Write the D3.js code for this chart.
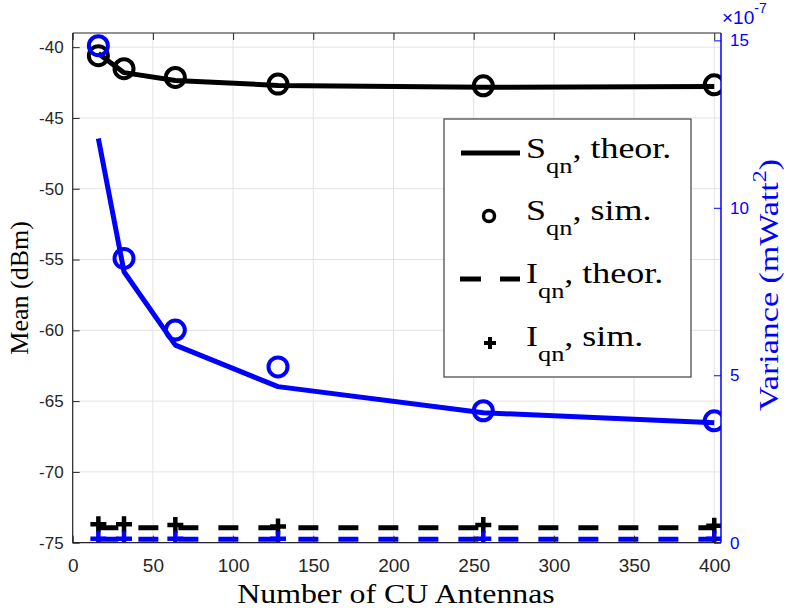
<!DOCTYPE html>
<html lang="en">
<head>
<meta charset="UTF-8">
<title>Mean and variance vs number of CU antennas</title>
<script src="https://d3js.org/d3.v7.min.js"></script>
<style>
  body { margin: 0; background: #ffffff; }
  svg { display: block; }
  .tick text { font-family: "Liberation Sans", Arial, sans-serif; }
  .serif { font-family: "Liberation Serif", "Times New Roman", serif; }
</style>
</head>
<body>
<svg id="chart" width="789" height="608"></svg>
<script>
// data
const antennas = [16, 32, 64, 128, 256, 400];
const sTheorMean = [-40.45, -41.8, -42.35, -42.7, -42.83, -42.78];
const sSimMean = [-40.6, -41.52, -42.14, -42.61, -42.73, -42.66];
const iTheorMean = [-73.95, -73.95, -73.95, -73.95, -73.95, -73.95];
const iSimMean = [-73.7, -73.7, -73.75, -73.85, -73.75, -73.8];
const sTheorVar = [12.07, 8.09, 5.9, 4.66, 3.88, 3.58];   // x 1e-7
const sSimVar = [14.84, 8.49, 6.35, 5.25, 3.94, 3.64];
const iTheorVar = [0.1, 0.1, 0.1, 0.1, 0.1, 0.1];
const iSimVar = [0.12, 0.12, 0.12, 0.12, 0.12, 0.12];

const xTicks = [0, 50, 100, 150, 200, 250, 300, 350, 400];
const meanTicks = [-75, -70, -65, -60, -55, -50, -45, -40];
const varTicks = [0, 5, 10, 15];
const legendNames = ["S", "S", "I", "I"];
const legendTails = [", theor.", ", sim.", ", theor.", ", sim."];

const svg = d3.select("#chart");
const box = { left: 72.7, top: 33, right: 721, bottom: 542.7 };
const axisGray = "#262626";
const blue = "#0000ff";
const plain = d => String(d);

const x = d3.scaleLinear().domain([0, 404.2]).range([box.left, box.right]);
const yL = d3.scaleLinear().domain([-75, -39]).range([box.bottom, box.top]);
const yR = d3.scaleLinear().domain([0, 15.22]).range([box.bottom, box.top]);

// grid
const grid = svg.append("g").attr("stroke", "#e3e3e3").attr("stroke-width", 1);
grid.selectAll(".gx").data(xTicks).enter().append("line")
    .attr("x1", d => x(d)).attr("x2", d => x(d))
    .attr("y1", box.top).attr("y2", box.bottom);
grid.selectAll(".gy").data(meanTicks).enter().append("line")
    .attr("x1", box.left).attr("x2", box.right)
    .attr("y1", d => yL(d)).attr("y2", d => yL(d));

// clip for the data
svg.append("clipPath").attr("id", "plotclip").append("rect")
    .attr("x", box.left).attr("y", box.top)
    .attr("width", box.right - box.left).attr("height", box.bottom - box.top);
const plot = svg.append("g").attr("clip-path", "url(#plotclip)");

const pts = (xs, ys) => xs.map((d, i) => [d, ys[i]]);
const lineL = d3.line().x(d => x(d[0])).y(d => yL(d[1]));
const lineR = d3.line().x(d => x(d[0])).y(d => yR(d[1]));
const plusPath = s => `M${-s},0H${s}M0,${-s}V${s}`;

function drawSeries(ys, lineFn, yScale, color, simYs, simType, dashed) {
    plot.append("path").datum(pts(antennas, ys))
        .attr("d", lineFn).attr("fill", "none").attr("stroke", color)
        .attr("stroke-width", 5)
        .attr("stroke-dasharray", dashed ? "20,20" : null)
        .attr("stroke-linejoin", "round");
    const sim = plot.selectAll(null).data(pts(antennas, simYs)).enter();
    if (simType === "circle") {
        sim.append("circle")
            .attr("cx", d => x(d[0])).attr("cy", d => yScale(d[1]))
            .attr("r", 9.5).attr("fill", "none").attr("stroke", color).attr("stroke-width", 4);
    } else {
        sim.append("path")
            .attr("transform", d => `translate(${x(d[0])},${yScale(d[1])})`)
            .attr("d", plusPath(8)).attr("stroke", color).attr("stroke-width", 4.5);
    }
}

// left (black) then right (blue)
drawSeries(sTheorMean, lineL, yL, "#000", sSimMean, "circle", false);
drawSeries(iTheorMean, lineL, yL, "#000", iSimMean, "plus", true);
drawSeries(sTheorVar, lineR, yR, blue, sSimVar, "circle", false);
drawSeries(iTheorVar, lineR, yR, blue, iSimVar, "plus", true);

// axes
const bottomAxis = svg.append("g").attr("transform", `translate(0,${box.bottom})`)
    .call(d3.axisBottom(x).tickValues(xTicks).tickFormat(plain)
        .tickSizeInner(-7).tickSizeOuter(0).tickPadding(16));
bottomAxis.selectAll("text").attr("font-size", 19).attr("fill", axisGray);

const topAxis = svg.append("g").attr("transform", `translate(0,${box.top})`)
    .call(d3.axisTop(x).tickValues(xTicks).tickSizeInner(-7).tickSizeOuter(0).tickFormat(""));

const leftAxis = svg.append("g").attr("transform", `translate(${box.left},0)`)
    .call(d3.axisLeft(yL).tickValues(meanTicks).tickFormat(plain)
        .tickSizeInner(-7).tickSizeOuter(0).tickPadding(9));
leftAxis.selectAll("text").attr("font-size", 17).attr("fill", axisGray);

const rightAxis = svg.append("g").attr("transform", `translate(${box.right},0)`)
    .call(d3.axisRight(yR).tickValues(varTicks).tickFormat(plain)
        .tickSizeInner(-7).tickSizeOuter(0).tickPadding(9));
rightAxis.selectAll("text").attr("font-size", 17).attr("fill", blue);
rightAxis.selectAll("line").attr("stroke", blue);

[bottomAxis, topAxis, leftAxis].forEach(g => {
    g.select(".domain").remove();
    g.selectAll("line").attr("stroke", axisGray);
});
rightAxis.select(".domain").remove();

// frame
svg.append("path")
    .attr("d", `M${box.left},${box.top}V${box.bottom}H${box.right}M${box.left},${box.top}H${box.right}`)
    .attr("fill", "none").attr("stroke", axisGray).attr("stroke-width", 1.2);
svg.append("line").attr("x1", box.right).attr("x2", box.right)
    .attr("y1", box.top).attr("y2", box.bottom).attr("stroke", blue).attr("stroke-width", 1.5);

// exponent label
const expo = svg.append("text").attr("x", 722).attr("y", 24)
    .attr("font-family", "Liberation Sans, Arial, sans-serif").attr("fill", blue).attr("font-size", 19);
expo.append("tspan").text("\u00d710");
expo.append("tspan").attr("dy", -11).attr("font-size", 14).text("-7");

// axis titles
svg.append("text").attr("class", "serif")
    .attr("transform", `translate(396,603) scale(1.18,1)`)
    .attr("text-anchor", "middle").attr("font-size", 27).attr("fill", "#000")
    .text("Number of CU Antennas");

svg.append("text").attr("class", "serif")
    .attr("transform", `translate(28,${(box.top + box.bottom) / 2}) rotate(-90)`)
    .attr("text-anchor", "middle").attr("font-size", 26).attr("fill", "#000")
    .text("Mean (dBm)");

const vLabel = svg.append("text").attr("class", "serif")
    .attr("transform", `translate(778,285) rotate(-90) scale(1.26,1)`)
    .attr("text-anchor", "middle").attr("font-size", 27).attr("fill", blue);
vLabel.append("tspan").text("Variance (mWatt");
vLabel.append("tspan").attr("dy", -12).attr("font-size", 19).text("2");
vLabel.append("tspan").attr("dy", 12).text(")");

// legend
const legend = svg.append("g");
legend.append("rect").attr("x", 444).attr("y", 119).attr("width", 247).attr("height", 258)
    .attr("fill", "#fff").attr("stroke", "#404040").attr("stroke-width", 1.2);

const rowBase = [158, 220, 283, 346];
legend.append("line").attr("x1", 461).attr("x2", 520).attr("y1", rowBase[0] - 5).attr("y2", rowBase[0] - 5)
    .attr("stroke", "#000").attr("stroke-width", 5);
legend.append("circle").attr("cx", 489).attr("cy", rowBase[1] - 4).attr("r", 5.5)
    .attr("fill", "none").attr("stroke", "#000").attr("stroke-width", 3.5);
legend.append("line").attr("x1", 460).attr("x2", 520).attr("y1", rowBase[2] - 4).attr("y2", rowBase[2] - 4)
    .attr("stroke", "#000").attr("stroke-width", 5).attr("stroke-dasharray", "21,19");
legend.append("path").attr("transform", `translate(490,${rowBase[3] - 3})`)
    .attr("d", plusPath(6)).attr("stroke", "#000").attr("stroke-width", 4);

legendNames.forEach((name, i) => {
    const t = legend.append("text").attr("class", "serif")
        .attr("transform", `translate(526,${rowBase[i]}) scale(1.2,1)`)
        .attr("font-size", 30).attr("fill", "#000");
    t.append("tspan").text(name);
    t.append("tspan").attr("dy", 15).attr("font-size", 22).text("qn");
    t.append("tspan").attr("dy", -15).text(legendTails[i]);
});
</script>
</body>
</html>
